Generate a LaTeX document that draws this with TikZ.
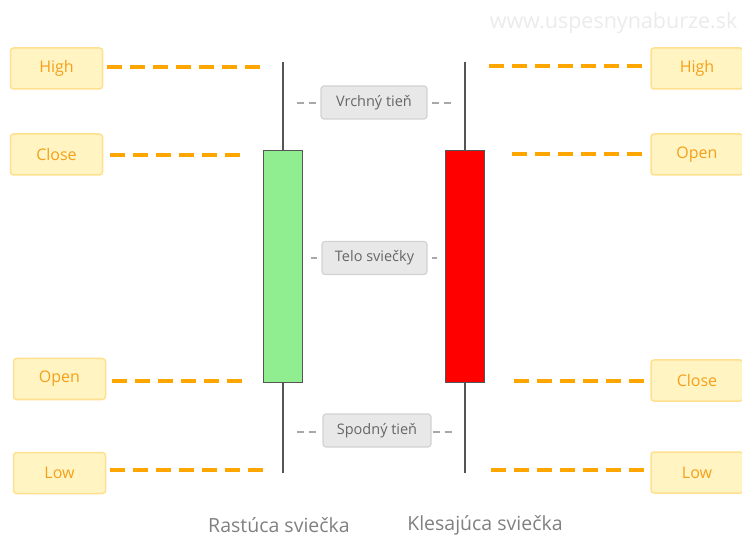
\documentclass[tikz,border=0pt]{standalone}
\usepackage{fontspec}
\usetikzlibrary{calc}
\setmainfont{Open Sans}
\definecolor{orangeline}{HTML}{FFA500}
\definecolor{boxfill}{HTML}{FFF4C2}
\definecolor{boxdraw}{HTML}{FFE08F}
\definecolor{boxtext}{HTML}{F5A01A}
\definecolor{grayfill}{HTML}{E8E8E8}
\definecolor{graydraw}{HTML}{D2D2D2}
\definecolor{graytext}{HTML}{666666}
\definecolor{tickgray}{HTML}{A8A8A8}
\definecolor{bottomtext}{HTML}{808080}
\definecolor{wick}{HTML}{555555}
\definecolor{wmark}{HTML}{EBEBEB}
\definecolor{bull}{HTML}{90EE90}
\begin{document}
\begin{tikzpicture}[x=1pt,y=-1pt,
  pricebox/.style={draw=boxdraw,line width=1.5pt,fill=boxfill,rounded corners=3pt,
    minimum width=92pt,minimum height=41pt,inner sep=0pt,text=boxtext,
    font=\fontsize{16}{18}\selectfont},
  partbox/.style={draw=graydraw,line width=1.2pt,fill=grayfill,rounded corners=3pt,
    minimum height=33pt,inner sep=0pt,text=graytext,font=\fontsize{14.5}{17}\selectfont},
  level/.style={draw=orangeline,line width=3.5pt,dash pattern=on 15pt off 8pt},
  tick/.style={draw=tickgray,line width=1.5pt,dash pattern=on 7pt off 5pt},
  body/.style={draw=wick,line width=1pt},
  wickline/.style={draw=wick,line width=1.2pt},
  caption/.style={text=bottomtext,font=\fontsize{19.5}{22}\selectfont}]
\useasboundingbox (0,0) rectangle (742,537);
% watermark
\node[text=wmark,font=\fontsize{21.5}{24}\selectfont,anchor=east] (wm) at (741,23) {www.uspesnynaburze.sk};
% wicks
\coordinate (lwt) at (283,62); \coordinate (lwb) at (283,473);
\coordinate (rwt) at (465,62); \coordinate (rwb) at (465,473);
\draw[wickline] (lwt) -- (lwb);
\draw[wickline] (rwt) -- (rwb);
% bodies
\node[body,fill=bull,minimum width=39pt,minimum height=232pt,inner sep=0pt] (lbody) at (282.5,267) {};
\node[body,fill=red,minimum width=39pt,minimum height=232pt,inner sep=0pt] (rbody) at (464.5,267) {};
% left price boxes
\node[pricebox] (lhigh) at (56.5,68.5) {High};
\node[pricebox] (lclose) at (56.5,154.5) {Close};
\node[pricebox] (lopen) at (59.5,379) {Open};
\node[pricebox] (llow) at (59.5,473) {Low};
% right price boxes
\node[pricebox] (rhigh) at (697,68.5) {High};
\node[pricebox] (ropen) at (697,154.5) {Open};
\node[pricebox] (rclose) at (697,380.5) {Close};
\node[pricebox] (rlow) at (697,472.5) {Low};
% line ends
\coordinate (e1) at (266,67); \coordinate (e2) at (244,155);
\coordinate (e3) at (246,381); \coordinate (e4) at (268,470);
\coordinate (f1) at (487,66); \coordinate (f2) at (510,154);
\coordinate (f3) at (510,381); \coordinate (f4) at (488,470);
\draw[level] (lhigh.east |- e1) ++(4,0) -- (e1);
\draw[level] (lclose.east |- e2) ++(7,0) -- (e2);
\draw[level] (lopen.east |- e3) ++(6,0) -- (e3);
\draw[level] (llow.east |- e4) ++(4,0) -- (e4);
\draw[level] (rhigh.west |- f1) ++(-8,0) -- (f1);
\draw[level] (ropen.west |- f2) ++(-8,0) -- (f2);
\draw[level] (rclose.west |- f3) ++(-6,0) -- (f3);
\draw[level] (rlow.west |- f4) ++(-6,0) -- (f4);
% part labels
\node[partbox,minimum width=106pt] (upper) at (374,102.5) {Vrchný tieň};
\node[partbox,minimum width=105pt] (bodyl) at (374.5,258) {Telo sviečky};
\node[partbox,minimum width=108pt] (lower) at (377,430.5) {Spodný tieň};
\coordinate (u1) at (297,103); \coordinate (u2) at (452,103);
\coordinate (b1) at (311,258); \coordinate (b2) at (437,258);
\coordinate (s1) at (297,432); \coordinate (s2) at (452,432);
\draw[tick] (u1) -- ($(upper.west)+(-3,0.5)$);
\draw[tick] ($(upper.east)+(4,0.5)$) -- (u2);
\draw[draw=tickgray,line width=1.5pt] (b1) -- ++(6,0) coordinate (b1e);
\draw[draw=tickgray,line width=1.5pt] (b2) -- ++(-5,0) coordinate (b2s);
\draw[tick] (s1) -- ($(lower.west)+(-3,1.5)$);
\draw[tick] ($(lower.east)+(1,1.5)$) -- (s2);
% captions
\node[caption] (cap1) at (279,525) {Rastúca sviečka};
\node[caption] (cap2) at (485,525) {Klesajúca sviečka};
\end{tikzpicture}
\end{document}
